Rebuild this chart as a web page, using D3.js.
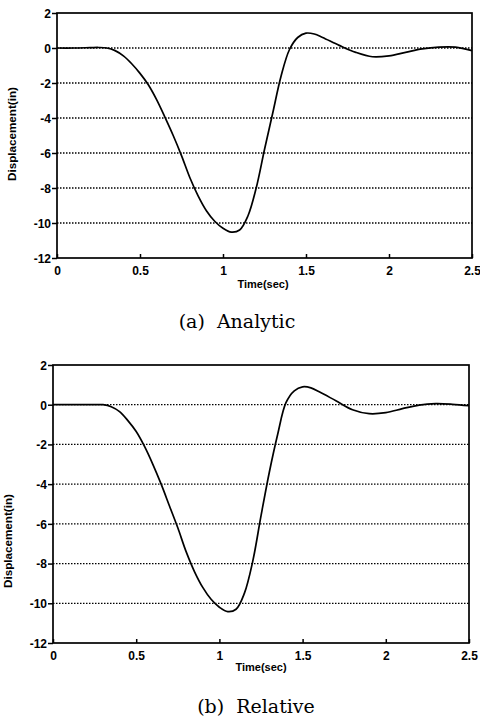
<!DOCTYPE html>
<html>
<head>
<meta charset="utf-8">
<script src="https://cdn.jsdelivr.net/npm/d3@7"></script>
<style>
  body { margin: 0; background: #fff; }
  svg { display: block; }
  .tick-lbl { font-family: "Liberation Sans", Arial, sans-serif; font-weight: bold; font-size: 12px; }
  .ax-title { font-family: "Liberation Sans", Arial, sans-serif; font-weight: bold; font-size: 11px; }
  .caption { font-family: "DejaVu Serif", "Liberation Serif", serif; font-size: 19px; }
</style>
</head>
<body>
<div id="chart"></div>
<script>
// data
var timeSec = [0, 0.1, 0.2, 0.25, 0.3, 0.35, 0.4, 0.45, 0.5, 0.55, 0.6, 0.65, 0.7, 0.75, 0.8, 0.85, 0.9, 0.95,
  1.0, 1.05, 1.1, 1.15, 1.2, 1.25, 1.3, 1.35, 1.4, 1.45, 1.5, 1.55, 1.6, 1.7, 1.8, 1.9, 2.0, 2.1, 2.2, 2.3, 2.4, 2.5];
var analytic = [0, 0, 0.02, 0.03, 0, -0.15, -0.45, -0.9, -1.45, -2.1, -2.95, -3.95, -5.0, -6.15, -7.4, -8.45, -9.3, -9.9,
  -10.3, -10.52, -10.4, -9.6, -8.0, -5.8, -3.7, -1.6, -0.1, 0.6, 0.85, 0.8, 0.6, 0.15, -0.25, -0.5, -0.45, -0.25, -0.05, 0.05, 0.05, -0.15];
var relative = [0, 0, 0, 0, 0, -0.1, -0.35, -0.8, -1.35, -2.1, -3.0, -4.0, -5.1, -6.2, -7.4, -8.4, -9.2, -9.8,
  -10.2, -10.42, -10.3, -9.5, -7.9, -5.6, -3.4, -1.5, 0.1, 0.7, 0.9, 0.85, 0.65, 0.2, -0.25, -0.45, -0.4, -0.2, -0.02, 0.05, 0.02, -0.05];
var xTicks = [0, 0.5, 1, 1.5, 2, 2.5];
var yTicks = [2, 0, -2, -4, -6, -8, -10, -12];
var gridVals = [0, -2, -4, -6, -8, -10];

var svg = d3.select("#chart").append("svg")
  .attr("width", 480)
  .attr("height", 720);

function drawPanel(values, box, caption) {
  var x = d3.scaleLinear().domain([0, 2.5]).range([box.left, box.right]);
  var y = d3.scaleLinear().domain([-12, 2]).range([box.bottom, box.top]);
  var g = svg.append("g");

  // dotted grid
  g.selectAll(".grid").data(gridVals).enter().append("line")
    .attr("x1", box.left).attr("x2", box.right)
    .attr("y1", function(d) { return y(d); })
    .attr("y2", function(d) { return y(d); })
    .attr("stroke", "#000")
    .attr("stroke-width", 1.3)
    .style("stroke-dasharray", "1.5,1.5");

  // frame
  g.append("rect")
    .attr("x", box.left).attr("y", box.top)
    .attr("width", box.right - box.left).attr("height", box.bottom - box.top)
    .attr("fill", "none").attr("stroke", "#000").attr("stroke-width", 1.7);

  // y axis
  var yAx = g.append("g")
    .attr("transform", "translate(" + box.left + ",0)")
    .call(d3.axisLeft(y).tickValues(yTicks).tickSize(5).tickPadding(1).tickFormat(d3.format("d")));
  yAx.select(".domain").remove();
  yAx.selectAll("line").attr("stroke", "#000").attr("stroke-width", 1.5);
  yAx.selectAll("text").attr("class", "tick-lbl").attr("fill", "#000").attr("dy", "0.36em")
    .text(function(d) { return d < 0 ? "-" + Math.abs(d) : d; });

  // x axis, ticks pointing inward
  var xAx = g.append("g")
    .attr("transform", "translate(0," + box.bottom + ")")
    .call(d3.axisBottom(x).tickValues(xTicks).tickSize(-4).tickPadding(8).tickFormat(function(d) { return d; }));
  xAx.select(".domain").remove();
  xAx.selectAll("line").attr("stroke", "#000").attr("stroke-width", 1.5);
  xAx.selectAll("text").attr("class", "tick-lbl").attr("fill", "#000");

  // curve
  var line = d3.line()
    .x(function(d, i) { return x(timeSec[i]); })
    .y(function(d) { return y(d); })
    .curve(d3.curveCatmullRom.alpha(0.5));
  g.append("path")
    .datum(values)
    .attr("d", line)
    .attr("fill", "none")
    .attr("stroke", "#000")
    .attr("stroke-width", 1.7);

  // titles
  g.append("text")
    .attr("class", "ax-title")
    .attr("transform", "translate(" + box.ytx + "," + box.yty + ") rotate(-90)")
    .attr("text-anchor", "middle")
    .attr("textLength", 94)
    .attr("lengthAdjust", "spacingAndGlyphs")
    .text("Displacement(in)");

  g.append("text")
    .attr("class", "ax-title")
    .attr("x", box.xtx).attr("y", box.xty)
    .attr("text-anchor", "middle")
    .text("Time(sec)");

  g.append("text")
    .attr("class", "caption")
    .attr("x", box.capx).attr("y", box.capy)
    .attr("text-anchor", "middle")
    .style("white-space", "pre")
    .text(caption);
}

drawPanel(analytic, { left: 57, right: 472, top: 13, bottom: 258, ytx: 16, yty: 134, xtx: 263, xty: 288, capx: 237, capy: 328 }, "(a)  Analytic");
drawPanel(relative, { left: 53, right: 469, top: 365, bottom: 643, ytx: 12, yty: 541, xtx: 261, xty: 671, capx: 256, capy: 713 }, "(b)  Relative");
</script>
</body>
</html>
